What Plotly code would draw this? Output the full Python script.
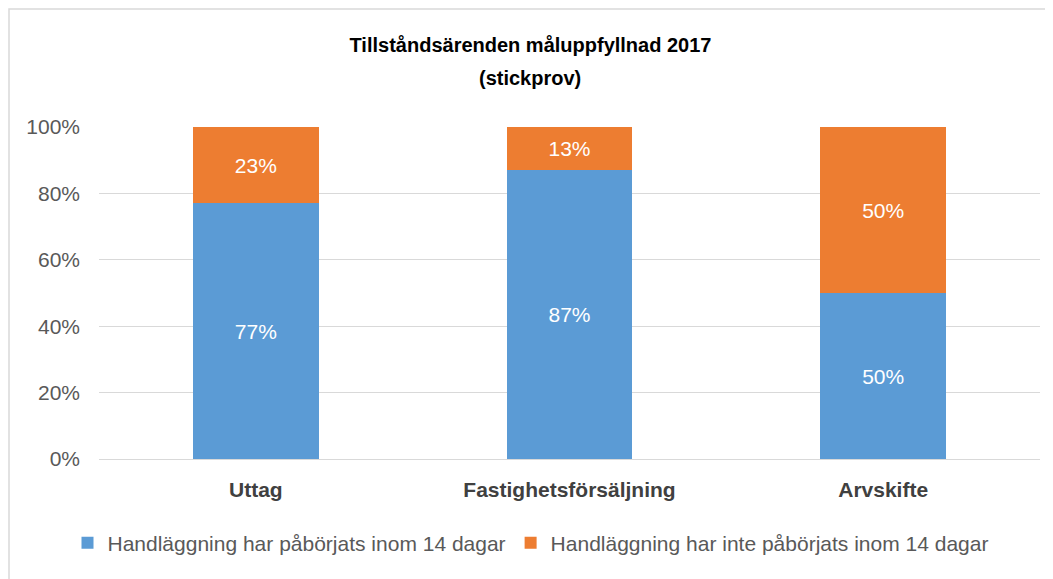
import plotly.graph_objects as go

categories = ["Uttag", "Fastighetsförsäljning", "Arvskifte"]
started = [77, 87, 50]
not_started = [23, 13, 50]
series_names = ["Handläggning har påbörjats inom 14 dagar",
                "Handläggning har inte påbörjats inom 14 dagar"]
tick_vals = [0, 20, 40, 60, 80, 100]
tick_text = ["0%", "20%", "40%", "60%", "80%", "100%"]

FONT = "Liberation Sans Narrow, Liberation Sans, Arial, sans-serif"

# The page adds an 8px body margin, so the figure is sized/offset to compensate.
W, H = 1045, 571
L, T = 91, 119
PW, PH = 941, 332

fig = go.Figure()
fig.add_trace(go.Bar(
    x=categories, y=started, name=series_names[0],
    marker=dict(color="#5B9BD5", line=dict(width=0)),
    text=[f"{v}%" for v in started], textposition="inside",
    insidetextanchor="middle",
    textfont=dict(color="white", size=21, family=FONT),
))
fig.add_trace(go.Bar(
    x=categories, y=not_started, name=series_names[1],
    marker=dict(color="#ED7D31", line=dict(width=0)),
    text=[f"{v}%" for v in not_started], textposition="inside",
    insidetextanchor="middle",
    textfont=dict(color="white", size=21, family=FONT),
))

fig.update_layout(
    width=W, height=H,
    barmode="stack", bargap=0.6,
    paper_bgcolor="white", plot_bgcolor="white",
    margin=dict(l=L, r=W - L - PW, t=T, b=H - T - PH, autoexpand=False),
    font=dict(family=FONT, color="#595959", size=18),
    title=dict(
        text="<b>Tillståndsärenden måluppfyllnad 2017</b>",
        x=0.5, xref="container", xanchor="center",
        y=1 - 37 / H, yref="container", yanchor="middle",
        font=dict(size=20, color="#000000", family=FONT),
    ),
    annotations=[dict(
        text="<b>(stickprov)</b>", showarrow=False,
        xref="paper", yref="paper",
        x=(522 - L) / PW, y=(T + PH - 70) / PH,
        xanchor="center", yanchor="middle",
        font=dict(size=20, color="#000000", family=FONT),
    )],
    xaxis=dict(
        tickfont=dict(size=21, color="#404040", family=FONT),
        tickvals=categories,
        ticktext=[f"<b>{c}</b>" for c in categories],
        showline=True, linecolor="#D9D9D9", linewidth=1,
        ticks="", ticklabelstandoff=12,
    ),
    yaxis=dict(
        range=[0, 100], tickvals=tick_vals, ticktext=tick_text,
        showgrid=True, gridcolor="#D9D9D9", gridwidth=1,
        zeroline=False, showline=False, ticks="",
        tickfont=dict(size=21, color="#595959", family=FONT),
        ticklabelstandoff=18,
    ),
    legend=dict(
        orientation="h", x=0.5, xref="container", xanchor="center",
        y=1 - 535 / H, yref="container", yanchor="middle",
        font=dict(size=21, color="#595959", family=FONT),
        traceorder="normal", itemwidth=30,
    ),
    uniformtext=dict(minsize=10, mode="show"),
    shapes=[dict(
        type="rect", xref="paper", yref="paper",
        x0=(1 - L) / PW, x1=(1042 - L) / PW,
        y0=-(H + 10 - T - PH) / PH, y1=(T + PH - 1) / PH,
        line=dict(color="#D9D9D9", width=1.5), fillcolor="rgba(0,0,0,0)",
        layer="below",
    )],
)

fig.write_html("out.html")
